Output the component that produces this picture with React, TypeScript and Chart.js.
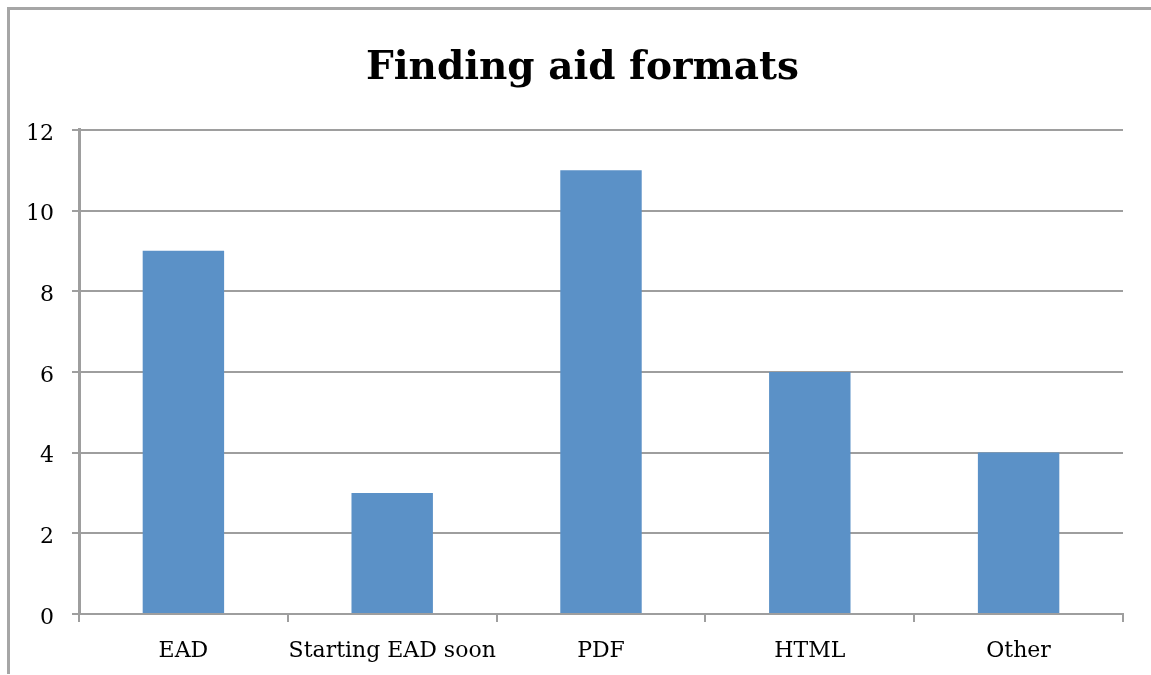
import React, { useEffect, useRef } from "react";
import { Chart, registerables } from "chart.js";

Chart.register(...registerables);

const categories = ["EAD", "Starting EAD soon", "PDF", "HTML", "Other"];
const values = [9, 3, 11, 6, 4];
const titleText = "Finding aid formats";

const titleShift = {
  id: "titleShift",
  afterLayout(chart: any) {
    if (chart.titleBlock) {
      chart.titleBlock.left = 42;
    }
  },
};

export default function App() {
  const ref = useRef<HTMLCanvasElement | null>(null);
  useEffect(() => {
    if (!ref.current) return;
    const chart = new Chart(ref.current, {
      type: "bar",
      data: {
        labels: categories,
        datasets: [
          {
            data: values,
            backgroundColor: "#5B91C7",
            borderWidth: 0,
            categoryPercentage: 1,
            barPercentage: 0.39,
          },
        ],
      },
      plugins: [titleShift],
      options: {
        animation: false,
        responsive: false,
        maintainAspectRatio: false,
        layout: { padding: { left: 0, right: 28, top: 0, bottom: 0 } },
        plugins: {
          legend: { display: false },
          tooltip: { enabled: false },
          title: {
            display: true,
            text: titleText,
            color: "#000",
            font: { family: "DejaVu Serif", size: 39, weight: "bold", lineHeight: 1.2 },
            padding: { top: 45, bottom: 38 },
          },
        },
        scales: {
          x: {
            grid: {
              display: true,
              offset: true,
              drawOnChartArea: false,
              drawTicks: true,
              tickLength: 8,
              color: "#9E9E9E",
              lineWidth: 2,
            },
            border: { display: true, color: "#9E9E9E", width: 2 },
            ticks: {
              color: "#000",
              font: { family: "DejaVu Serif", size: 22 },
              padding: 16,
              maxRotation: 0,
              autoSkip: false,
            },
            afterFit: (s: any) => {
              s.height = 61;
            },
          },
          y: {
            min: 0,
            max: 12,
            ticks: {
              stepSize: 2,
              color: "#000",
              font: { family: "DejaVu Serif", size: 22 },
              padding: 18,
              labelOffset: 4,
            },
            grid: {
              color: "#9E9E9E",
              lineWidth: 2,
              drawTicks: true,
              tickLength: 7,
            },
            border: { display: true, color: "#9E9E9E", width: 3 },
            afterFit: (s: any) => {
              s.width = 79;
            },
          },
        },
      },
    });
    return () => chart.destroy();
  }, []);
  return (
    <div style={{ position: "absolute", left: 0, top: 0, width: 1151, height: 675, background: "#fff" }}>
      <div
        style={{
          position: "absolute",
          left: 7,
          top: 7,
          width: 1200,
          height: 667,
          borderLeft: "3px solid #A6A6A6",
          borderTop: "3px solid #A6A6A6",
          boxSizing: "border-box",
        }}
      />
      <canvas ref={ref} width={1151} height={675} style={{ position: "absolute", left: 0, top: 0 }} />
    </div>
  );
}
